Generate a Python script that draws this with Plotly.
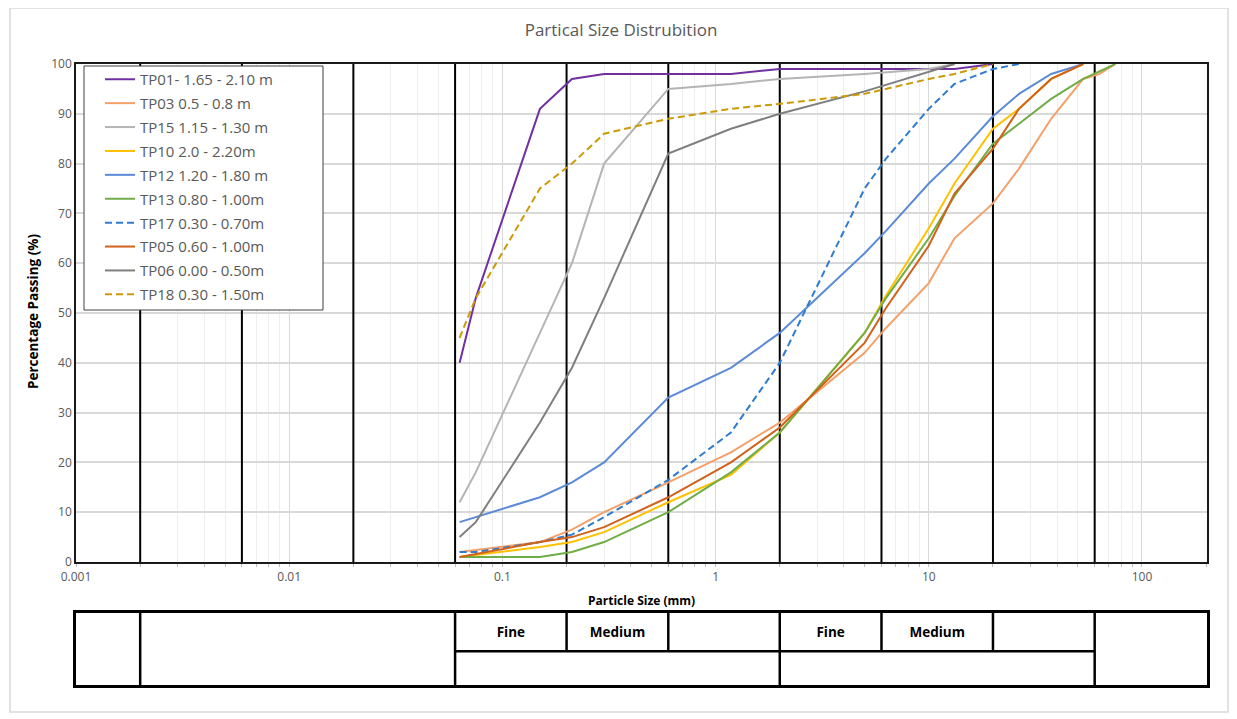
import plotly.graph_objects as go

# ---------------- data ----------------
SIEVES = [0.063, 0.075, 0.15, 0.212, 0.3, 0.6, 1.18, 2, 5, 6.3, 10, 13.2, 20, 26.5, 37.5, 53, 63, 75]

TP01 = [40, 53, 91, 97, 98, 98, 98, 99, 99, None, 99, 99, 100, None, None, None, None, None]
TP03 = [2, None, 4, 6.5, 10, 16, 22, 28, 42, 47, 56, 65, 72, 79, 89, 97, 98, 100]
TP15 = [12, 18, 46, 60, 80, 95, 96, 97, 98, None, 99, 100, None, None, None, None, None, None]
TP10 = [1, None, 3, 4, 6, 12, 17.5, 26, 46, 53.5, 67, 76, 87, 91, 97, 100, None, None]
TP12 = [8, None, 13, 16, 20, 33, 39, 46, 62, 66.5, 76, 81, 89.5, 94, 98, 100, None, None]
TP13 = [1, 1, 1, 2, 4, 10, 18, 26, 46, 53, 65, 73.5, 84, 88, 93, 97, None, 100]
TP17 = [2, 2, 4, 5.5, 9, 16.5, 26, 40, 75, 81, 91, 96, 99, 100, None, None, None, None]
TP05 = [1, None, 4, 5, 7, 13, 20, 27, 44, 51, 63.5, 74, 83, 91, 97, 100, None, None]
TP06 = [5, 8, 28, 39, 53, 82, 87, 90, 94.5, None, 98.5, 100, None, None, None, None, None, None]
TP18 = [45, 53, 75, 80, 86, 89, 91, 92, 94, 95, 97, 98, 100, None, None, None, None, None]

SERIES_NAMES = ["TP01- 1.65 - 2.10 m", "TP03 0.5 - 0.8 m", "TP15 1.15 - 1.30 m", "TP10 2.0 - 2.20m",
                "TP12 1.20 - 1.80 m", "TP13 0.80 - 1.00m", "TP17 0.30 - 0.70m", "TP05 0.60 - 1.00m",
                "TP06 0.00 - 0.50m", "TP18 0.30 - 1.50m"]
SERIES_VALUES = [TP01, TP03, TP15, TP10, TP12, TP13, TP17, TP05, TP06, TP18]

# classification boundaries (mm)
BOUNDARIES = [0.002, 0.006, 0.02, 0.06, 0.2, 0.6, 2, 6, 20, 60]
TABLE_FULL_DIVIDERS = [0.002, 0.06, 2, 60]
TABLE_HALF_DIVIDERS = [0.2, 0.6, 6, 20]
TABLE_ROW_SPAN = [0.06, 60]
TABLE_CELLS = [(0.06, 0.2), (0.2, 0.6), (2, 6), (6, 20)]
TABLE_LABELS = ["Fine", "Medium", "Fine", "Medium"]

X_TICKS = [0.001, 0.01, 0.1, 1, 10, 100]
X_TICK_LABELS = ["0.001", "0.01", "0.1", "1", "10", "100"]

# ---------------- styles ----------------
COLORS = ["#7030A0", "#F4A06A", "#B4B4B4", "#FFC000", "#5B8BD6",
          "#70AD47", "#2E7BD0", "#D0621C", "#7F7F7F", "#CC9A06"]
DASHES = ["solid", "solid", "solid", "solid", "solid", "solid", "7px,4px", "solid", "solid", "7px,4px"]
FONT = "Open Sans"
GREY_TEXT = "#595959"

OFF = 8                      # default body margin of the written page
W, H = 1237 - OFF, 719 - OFF
PLOT_L, PLOT_R, PLOT_T, PLOT_B = 76, 1207, 64, 685   # page pixel positions
ML, MR, MT, MB = PLOT_L - OFF, W - (PLOT_R - OFF), PLOT_T - OFF, H - (PLOT_B - OFF)
PW = W - ML - MR
PH = H - MT - MB


def px_x(px):
    return (px - OFF - ML) / PW


def px_y(py):
    return (H - MB - (py - OFF)) / PH


fig = go.Figure()

# black classification lines
bx, by = [], []
for b in BOUNDARIES:
    bx += [b, b, None]
    by += [0, 100, None]
fig.add_trace(go.Scatter(x=bx, y=by, mode="lines", line=dict(color="black", width=2),
                         showlegend=False, hoverinfo="skip", xaxis="x", yaxis="y"))

for name, vals, color, dash in zip(SERIES_NAMES, SERIES_VALUES, COLORS, DASHES):
    xs = [s for s, v in zip(SIEVES, vals) if v is not None]
    ys = [v for v in vals if v is not None]
    fig.add_trace(go.Scatter(x=xs, y=ys, name=name, mode="lines", legendgroup=name,
                             line=dict(color=color, width=2, dash=dash),
                             xaxis="x", yaxis="y"))

# table below the chart
tx, ty = [], []
for b in TABLE_FULL_DIVIDERS:
    tx += [b, b, None]
    ty += [0, 1, None]
for b in TABLE_HALF_DIVIDERS:
    tx += [b, b, None]
    ty += [0.47, 1, None]
tx += [TABLE_ROW_SPAN[0], TABLE_ROW_SPAN[1], None]
ty += [0.47, 0.47, None]
fig.add_trace(go.Scatter(x=tx, y=ty, mode="lines", line=dict(color="black", width=2.5),
                         showlegend=False, hoverinfo="skip", xaxis="x2", yaxis="y2"))

cx = [(a * b) ** 0.5 for a, b in TABLE_CELLS]
fig.add_trace(go.Scatter(x=cx, y=[0.71] * len(cx), mode="text",
                         text=["<b>%s</b>" % t for t in TABLE_LABELS],
                         textfont=dict(family=FONT, size=13.5, color="black"),
                         showlegend=False, hoverinfo="skip", xaxis="x2", yaxis="y2"))

XR = [-3, 2.305]
fig.update_layout(
    width=W, height=H,
    margin=dict(l=ML, r=MR, t=MT, b=MB, autoexpand=False),
    paper_bgcolor="white", plot_bgcolor="white",
    title=dict(text="Partical Size Distrubition", x=(621 - OFF) / W, y=1 - (30 - OFF) / H,
               xanchor="center", yanchor="middle",
               font=dict(family=FONT, size=17, color=GREY_TEXT)),
    xaxis=dict(type="log", range=XR, domain=[0, 1], anchor="y",
               tickvals=X_TICKS, ticktext=X_TICK_LABELS,
               tickfont=dict(family=FONT, size=12, color=GREY_TEXT),
               showgrid=True, gridcolor="#D9D9D9", gridwidth=1,
               minor=dict(dtick="D1", showgrid=True, gridcolor="#EEEEEE",
                          ticks="outside", ticklen=3, tickcolor="#BFBFBF"),
               ticks="outside", ticklen=3, tickcolor="#BFBFBF",
               showline=True, mirror=True, linecolor="#1A1A1A", linewidth=2,
               zeroline=False),
    yaxis=dict(range=[0, 100], domain=[px_y(562), 1], anchor="x", dtick=10,
               tickfont=dict(family=FONT, size=12, color=GREY_TEXT),
               showgrid=True, gridcolor="#D9D9D9", gridwidth=1.5,
               showline=True, mirror=True, linecolor="#1A1A1A", linewidth=1.5,
               ticks="", zeroline=False),
    xaxis2=dict(type="log", range=XR, domain=[0, 1], anchor="y2",
                showgrid=False, showticklabels=False, ticks="",
                showline=True, mirror=True, linecolor="black", linewidth=3,
                zeroline=False),
    yaxis2=dict(range=[0, 1], domain=[0, px_y(613)], anchor="x2",
                showgrid=False, showticklabels=False, ticks="",
                showline=True, mirror=True, linecolor="black", linewidth=3,
                zeroline=False),
    legend=dict(x=px_x(100), y=px_y(63), xanchor="left", yanchor="top",
                bgcolor="rgba(0,0,0,0)", borderwidth=0,
                font=dict(family=FONT, size=15, color=GREY_TEXT),
                tracegroupgap=1.4, itemwidth=30),
    showlegend=True,
    shapes=[
        # outer frame of chart area
        dict(type="rect", xref="paper", yref="paper",
             x0=px_x(10), x1=px_x(1228), y0=px_y(712), y1=px_y(8),
             line=dict(color="#D9D9D9", width=1.5), fillcolor="rgba(0,0,0,0)", layer="below"),
        # legend box
        dict(type="rect", xref="paper", yref="paper",
             x0=px_x(84), x1=px_x(323), y0=px_y(310), y1=px_y(66),
             line=dict(color="#404040", width=1), fillcolor="white", layer="above"),
    ],
    annotations=[
        dict(text="<b>Particle Size (mm)</b>", xref="paper", yref="paper",
             x=px_x(641), y=px_y(600), xanchor="center", yanchor="middle", showarrow=False,
             font=dict(family=FONT, size=12, color="black")),
        dict(text="<b>Percentage Passing (%)</b>", xref="paper", yref="paper",
             x=px_x(33), y=px_y(312), xanchor="center", yanchor="middle", showarrow=False,
             textangle=-90, font=dict(family=FONT, size=13.5, color="black")),
    ],
)

fig.write_html("out.html")
